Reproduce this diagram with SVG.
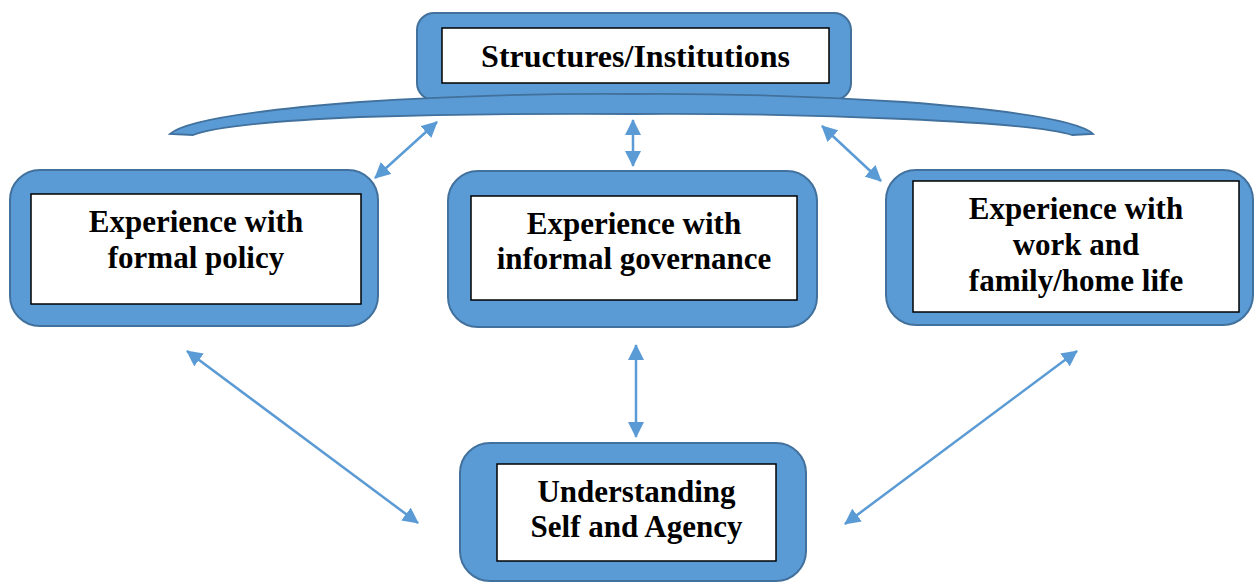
<svg xmlns="http://www.w3.org/2000/svg" width="1254" height="583" viewBox="0 0 1254 583">
<style>
.outer{fill:#5B9BD5;stroke:#41719C;stroke-width:2}
.inner{fill:#FFFFFF;stroke:#000000;stroke-width:1.5}
text{font-family:'Liberation Serif','DejaVu Serif','Times New Roman',serif;font-weight:bold;font-size:31px;fill:#000;text-anchor:middle}
text.big{font-size:32px}
.conn{stroke:#5B9BD5;stroke-width:2.5;fill:none;marker-start:url(#ah);marker-end:url(#ah)}
</style>
<defs>
<marker id="ah" markerUnits="userSpaceOnUse" markerWidth="16" markerHeight="16" refX="15" refY="8" orient="auto-start-reverse" viewBox="0 0 16 16">
<path d="M0,0 L16,8 L0,16 Z" fill="#5B9BD5"/>
</marker>
</defs>
<rect width="1254" height="583" fill="#FFFFFF"/>
<g id="structures">
<rect class="outer" x="417" y="13" width="434" height="87" rx="17"/>
<rect class="inner" x="442" y="28" width="387" height="55"/>
<text class="big" x="635.5" y="67">Structures/Institutions</text>
<path id="bracket" class="outer" style="stroke-width:1.8" d="M170,134 Q190,115 360,102 Q500,93 632,94 Q764,93 904,102 Q1074,115 1093,134 L1072,135 Q1040,125 904,119 Q764,113 632,114 Q500,113 360,117 Q224,123 193,135 Z"/>
</g>
<g id="formal">
<rect class="outer" x="10" y="170" width="368" height="156" rx="30"/>
<rect class="inner" x="31" y="194" width="330" height="110"/>
<text x="196" y="232">Experience with</text>
<text x="196" y="268">formal policy</text>
</g>
<g id="informal">
<rect class="outer" x="448" y="171" width="369" height="156" rx="30"/>
<rect class="inner" x="471" y="196" width="326" height="104"/>
<text x="634" y="234">Experience with</text>
<text x="634" y="269">informal governance</text>
</g>
<g id="work">
<rect class="outer" x="886" y="170" width="367" height="155" rx="30"/>
<rect class="inner" x="913" y="181" width="326" height="131"/>
<text x="1076" y="219">Experience with</text>
<text x="1076" y="255">work and</text>
<text x="1076" y="291">family/home life</text>
</g>
<g id="self">
<rect class="outer" x="460" y="443" width="346" height="138" rx="30"/>
<rect class="inner" x="497" y="464" width="279" height="97"/>
<text x="636.5" y="502">Understanding</text>
<text x="636.5" y="537">Self and Agency</text>
</g>
<g id="connectors">
<line class="conn" x1="437" y1="122" x2="375" y2="178"/>
<line class="conn" x1="633" y1="120" x2="633" y2="166"/>
<line class="conn" x1="822" y1="126" x2="881" y2="181"/>
<line class="conn" x1="187" y1="351" x2="418" y2="523"/>
<line class="conn" x1="636" y1="345" x2="636" y2="437"/>
<line class="conn" x1="1077" y1="351" x2="845" y2="524"/>
</g>
</svg>
